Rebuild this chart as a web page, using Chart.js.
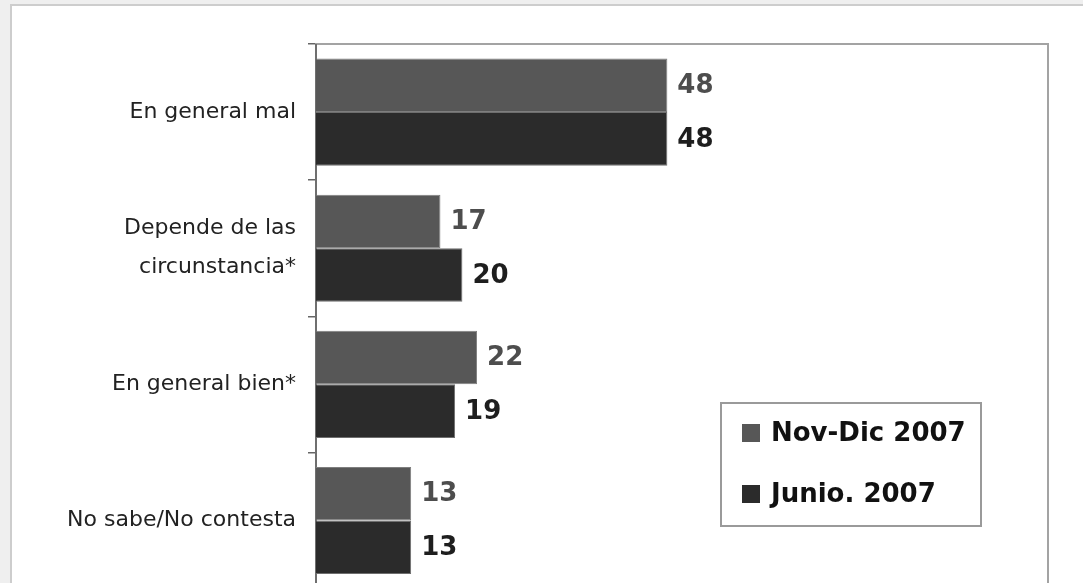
<!DOCTYPE html>
<html>
<head>
<meta charset="utf-8">
<script src="https://cdn.jsdelivr.net/npm/chart.js@4.4.1/dist/chart.umd.min.js"></script>
<style>
html,body{margin:0;padding:0;width:1083px;height:583px;overflow:hidden;background:#efefef;}
#frame{position:absolute;left:10px;top:4px;width:1100px;height:640px;background:#fff;border-left:2px solid #cdcdcd;border-top:2px solid #cdcdcd;}
#wrap{position:absolute;left:0;top:0;width:1083px;height:620px;}
</style>
</head>
<body>
<div id="frame"></div>
<div id="wrap"><canvas id="c" width="1083" height="620"></canvas></div>
<script>
const categories = ['En general mal', ['Depende de las', 'circunstancia*'], 'En general bien*', 'No sabe/No contesta'];
const seriesNames = ['Nov-Dic 2007', 'Junio. 2007'];
const novDic = [48, 17, 22, 13];
const junio = [48, 20, 19, 13];
const xMax = 100;

const barColors = ['#575757', '#2b2b2b'];
const labelColors = ['#4d4d4d', '#1e1e1e'];

const valueLabels = {
  id: 'valueLabels',
  afterDatasetsDraw(chart) {
    const ctx = chart.ctx;
    ctx.save();
    ctx.font = 'bold 26px "DejaVu Sans"';
    ctx.textBaseline = 'middle';
    ctx.textAlign = 'left';
    chart.data.datasets.forEach((ds, di) => {
      const meta = chart.getDatasetMeta(di);
      ctx.fillStyle = labelColors[di];
      meta.data.forEach((bar, i) => {
        ctx.fillText(String(ds.data[i]), bar.x + 10, bar.y + 1);
      });
    });
    ctx.restore();
  }
};

const frameAndLegend = {
  id: 'frameAndLegend',
  beforeDatasetsDraw(chart) {
    const a = chart.chartArea;
    const ctx = chart.ctx;
    ctx.save();
    ctx.strokeStyle = '#a3a3a3';
    ctx.lineWidth = 2;
    ctx.strokeRect(a.left, a.top, a.right - a.left, a.bottom - a.top);
    ctx.strokeStyle = '#6f6f6f';
    ctx.beginPath();
    ctx.moveTo(a.left, a.top);
    ctx.lineTo(a.left, a.bottom);
    ctx.stroke();
    ctx.restore();
  },
  afterDraw(chart) {
    const ctx = chart.ctx;
    ctx.save();
    ctx.fillStyle = '#ffffff';
    ctx.fillRect(721, 403, 260, 123);
    ctx.strokeStyle = '#9a9a9a';
    ctx.lineWidth = 2;
    ctx.strokeRect(721, 403, 260, 123);
    ctx.font = 'bold 26px "DejaVu Sans"';
    ctx.textBaseline = 'middle';
    ctx.textAlign = 'left';
    const ys = [433, 494];
    chart.data.datasets.forEach((ds, i) => {
      ctx.fillStyle = barColors[i];
      ctx.fillRect(742, ys[i] - 9, 18, 18);
      ctx.fillStyle = '#111';
      ctx.fillText(ds.label, 771, ys[i] + 1);
    });
    ctx.restore();
  }
};

new Chart(document.getElementById('c'), {
  type: 'bar',
  data: {
    labels: categories,
    datasets: [
      { label: seriesNames[0], data: novDic, backgroundColor: barColors[0], borderColor: '#7e7e7e', borderWidth: 1 },
      { label: seriesNames[1], data: junio, backgroundColor: barColors[1], borderColor: '#6e6e6e', borderWidth: 1 }
    ]
  },
  options: {
    indexAxis: 'y',
    responsive: false,
    animation: false,
    events: [],
    categoryPercentage: 0.787,
    barPercentage: 1.0,
    layout: { padding: { left: 0, right: 35, top: 44, bottom: 12 } },
    plugins: { legend: { display: false }, tooltip: { enabled: false }, title: { display: false } },
    scales: {
      x: { display: false, min: 0, max: xMax },
      y: {
        afterFit(scale) { scale.width = 316; },
        grid: { offset: true, drawOnChartArea: false, drawTicks: true, tickLength: 8, color: '#666666', lineWidth: 1.5 },
        border: { display: true, color: '#6f6f6f', width: 2 },
        ticks: { color: '#222', padding: 12, font: { family: '"DejaVu Sans"', size: 22, lineHeight: 1.77 } }
      }
    }
  },
  plugins: [frameAndLegend, valueLabels]
});
</script>
</body>
</html>
